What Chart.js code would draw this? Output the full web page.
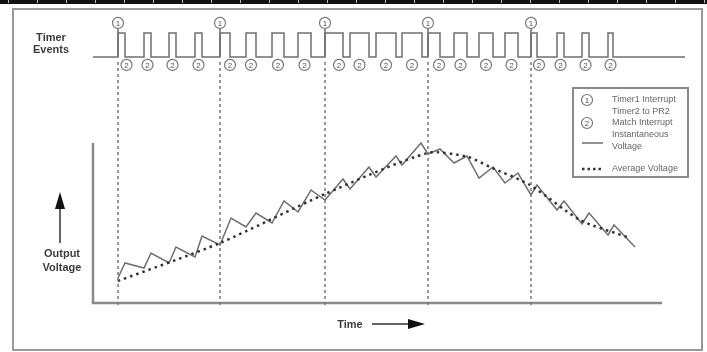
<!DOCTYPE html>
<html>
<head>
<meta charset="utf-8">
<script src="https://cdn.jsdelivr.net/npm/chart.js"></script>
<style>
  html, body { margin: 0; padding: 0; background: #fff; }
  #wrap { width: 707px; height: 352px; }
</style>
</head>
<body>
<div id="wrap"><canvas id="pwmChart" width="707" height="352"></canvas></div>
<script>
// time in ticks (0 = first Timer1 interrupt), voltage in arbitrary units
var timer1Times  = [0, 102, 207, 310, 413];
var timer2Starts = [0, 26, 51, 77, 102, 128, 154, 180, 207, 232, 258, 284, 310, 336, 361, 387, 413, 439, 464, 490];
var pulseWidths  = [7, 7, 7, 7, 10, 10, 12, 13, 18, 19, 20, 20, 12, 13, 14, 13, 6, 7, 7, 5];
var eventSpan    = [-25, 567];

var instTime = [0, 7, 26, 33, 51, 58, 77, 84, 102, 113, 128, 138, 154, 166, 180, 193, 207, 225, 232, 251, 258, 278, 284, 303, 310, 322, 336, 349, 361, 375, 387, 400, 413, 419, 439, 446, 464, 471, 490, 496, 517];
var instVolt = [25, 40, 35, 50, 40, 56, 46, 67, 58, 85, 76, 90, 80, 102, 91, 113, 103, 124, 114, 136, 126, 147, 138, 160, 149, 154, 140, 147, 125, 136, 120, 130, 108, 118, 93, 102, 79, 90, 68, 78, 56];

var avgTime = [0, 102, 207, 310, 350, 372, 412, 462, 509];
var avgVolt = [22, 60, 109, 150, 146, 136, 118, 83, 66];

var axisTime = [-25, 544];
var axisVolt = [0, 160];
var markerLineVolt = [241, -2];

// event row levels: 0 = low, 1 = high
var t1MarkLevel = 1.42;
var t1StemTop = 1.19;
var t2MarkLevel = -0.33;

var lineGrey = '#6f6f6f';

// build the timer event trace
var pulseTrace = [{ x: eventSpan[0], y: 0 }];
for (var i = 0; i < timer2Starts.length; i++) {
  var s = timer2Starts[i], w = pulseWidths[i];
  pulseTrace.push({ x: s, y: 0 }, { x: s, y: 1 }, { x: s + w, y: 1 }, { x: s + w, y: 0 });
}
pulseTrace.push({ x: eventSpan[1], y: 0 });

var stems = [], dashLines = [], t1Marks = [], t2Marks = [];
timer1Times.forEach(function (t) {
  stems.push({ x: t, y: 0 }, { x: t, y: t1StemTop }, { x: t, y: null });
  dashLines.push({ x: t, y: markerLineVolt[0] }, { x: t, y: markerLineVolt[1] }, { x: t, y: null });
  t1Marks.push({ x: t, y: t1MarkLevel });
});
timer2Starts.forEach(function (s, i) {
  var shift = timer1Times.indexOf(s) >= 0 ? 5 : 0;
  t2Marks.push({ x: s + pulseWidths[i] / 2 + shift, y: t2MarkLevel });
});

var instData = instTime.map(function (t, i) { return { x: t, y: instVolt[i] }; });
var avgData = avgTime.map(function (t, i) { return { x: t, y: avgVolt[i] }; });
var axisData = [{ x: axisTime[0], y: axisVolt[1] }, { x: axisTime[0], y: axisVolt[0] }, { x: axisTime[1], y: axisVolt[0] }];

function circleMark(ctx, x, y, label) {
  ctx.beginPath();
  ctx.arc(x, y, 5.5, 0, Math.PI * 2);
  ctx.fillStyle = '#fff';
  ctx.fill();
  ctx.lineWidth = 1.2;
  ctx.strokeStyle = '#777';
  ctx.stroke();
  ctx.fillStyle = '#555';
  ctx.font = '8px "Liberation Sans", Arial, sans-serif';
  ctx.textAlign = 'center';
  ctx.textBaseline = 'middle';
  ctx.fillText(label, x, y + 0.5);
}

function arrowHead(ctx, x, y, dir) {
  ctx.beginPath();
  if (dir === 'up') {
    ctx.moveTo(x, y); ctx.lineTo(x - 5, y + 17); ctx.lineTo(x + 5, y + 17);
  } else {
    ctx.moveTo(x, y); ctx.lineTo(x - 17, y - 5); ctx.lineTo(x - 17, y + 5);
  }
  ctx.closePath();
  ctx.fill();
}

// frame, labels, arrows, legend and circled numbers
var decorPlugin = {
  id: 'decor',
  beforeDraw: function (chart) {
    var ctx = chart.ctx;
    ctx.save();
    ctx.fillStyle = '#fff';
    ctx.fillRect(0, 0, chart.width, chart.height);
    ctx.fillStyle = '#111';
    ctx.fillRect(0, 0, chart.width, 4);
    ctx.fillStyle = '#bbb';
    for (var x = 8; x < chart.width; x += 29) ctx.fillRect(x, 0, 1, 3);
    ctx.strokeStyle = '#9a9a9a';
    ctx.lineWidth = 2;
    ctx.strokeRect(13, 9, 689, 341);
    ctx.restore();
  },
  afterDatasetsDraw: function (chart) {
    var ctx = chart.ctx;
    ctx.save();
    chart.getDatasetMeta(3).data.forEach(function (p) { circleMark(ctx, p.x, p.y, '1'); });
    chart.getDatasetMeta(4).data.forEach(function (p) { circleMark(ctx, p.x, p.y, '2'); });

    ctx.fillStyle = '#3c3c3c';
    ctx.font = 'bold 11px "Liberation Sans", Arial, sans-serif';
    ctx.textAlign = 'center';
    ctx.textBaseline = 'alphabetic';
    ctx.fillText('Timer', 51, 41);
    ctx.fillText('Events', 51, 53);
    ctx.fillText('Output', 62, 257);
    ctx.fillText('Voltage', 62, 271);
    ctx.fillText('Time', 350, 328);

    ctx.strokeStyle = '#333';
    ctx.lineWidth = 1.5;
    ctx.beginPath();
    ctx.moveTo(60, 243); ctx.lineTo(60, 205);
    ctx.moveTo(372, 324); ctx.lineTo(412, 324);
    ctx.stroke();
    ctx.fillStyle = '#111';
    arrowHead(ctx, 60, 192, 'up');
    arrowHead(ctx, 425, 324, 'right');

    // legend
    ctx.strokeStyle = '#8a8a8a';
    ctx.lineWidth = 2;
    ctx.strokeRect(573, 88, 115, 89);
    circleMark(ctx, 587, 100, '1');
    circleMark(ctx, 587, 123, '2');
    ctx.strokeStyle = lineGrey;
    ctx.lineWidth = 1.5;
    ctx.beginPath(); ctx.moveTo(582, 143); ctx.lineTo(603, 143); ctx.stroke();
    ctx.strokeStyle = '#333';
    ctx.lineWidth = 2.5;
    ctx.setLineDash([2.5, 3]);
    ctx.beginPath(); ctx.moveTo(582, 169); ctx.lineTo(604, 169); ctx.stroke();
    ctx.setLineDash([]);
    ctx.fillStyle = '#666';
    ctx.font = '9px "Liberation Sans", Arial, sans-serif';
    ctx.textAlign = 'left';
    ctx.textBaseline = 'middle';
    ctx.fillText('Timer1 Interrupt', 612, 100);
    ctx.fillText('Timer2 to PR2', 612, 112);
    ctx.fillText('Match Interrupt', 612, 123);
    ctx.fillText('Instantaneous', 612, 135);
    ctx.fillText('Voltage', 612, 147);
    ctx.fillText('Average Voltage', 612, 169);
    ctx.restore();
  }
};

var ctx = document.getElementById('pwmChart').getContext('2d');
var pwmChart = new Chart(ctx, {
  type: 'line',
  data: {
    datasets: [
      { label: 'Timer events', data: pulseTrace, yAxisID: 'ye', borderColor: lineGrey, borderWidth: 1.5, pointRadius: 0 },
      { label: 'Timer1 stems', data: stems, yAxisID: 'ye', borderColor: lineGrey, borderWidth: 1.5, pointRadius: 0, spanGaps: false },
      { label: 'Timer1 lines', data: dashLines, yAxisID: 'yv', borderColor: '#777', borderWidth: 1.5, borderDash: [3, 3], pointRadius: 0, spanGaps: false },
      { label: 'Timer1 Interrupt', data: t1Marks, yAxisID: 'ye', showLine: false, pointRadius: 0 },
      { label: 'Timer2 to PR2 Match Interrupt', data: t2Marks, yAxisID: 'ye', showLine: false, pointRadius: 0 },
      { label: 'Axes', data: axisData, yAxisID: 'yv', borderColor: '#8a8a8a', borderWidth: 2.5, pointRadius: 0 },
      { label: 'Average Voltage', data: avgData, yAxisID: 'yv', borderColor: '#333', borderWidth: 2.5, borderDash: [2.5, 4], pointRadius: 0, tension: 0.25 },
      { label: 'Instantaneous Voltage', data: instData, yAxisID: 'yv', borderColor: lineGrey, borderWidth: 1.5, pointRadius: 0 }
    ]
  },
  options: {
    responsive: false,
    animation: false,
    layout: { padding: 0 },
    plugins: { legend: { display: false }, tooltip: { enabled: false } },
    scales: {
      x:  { type: 'linear', min: -118, max: 589, display: false },
      yv: { type: 'linear', min: -49, max: 303, display: false },
      ye: { type: 'linear', min: -12.29, max: 2.375, display: false }
    }
  },
  plugins: [decorPlugin]
});
</script>
</body>
</html>
